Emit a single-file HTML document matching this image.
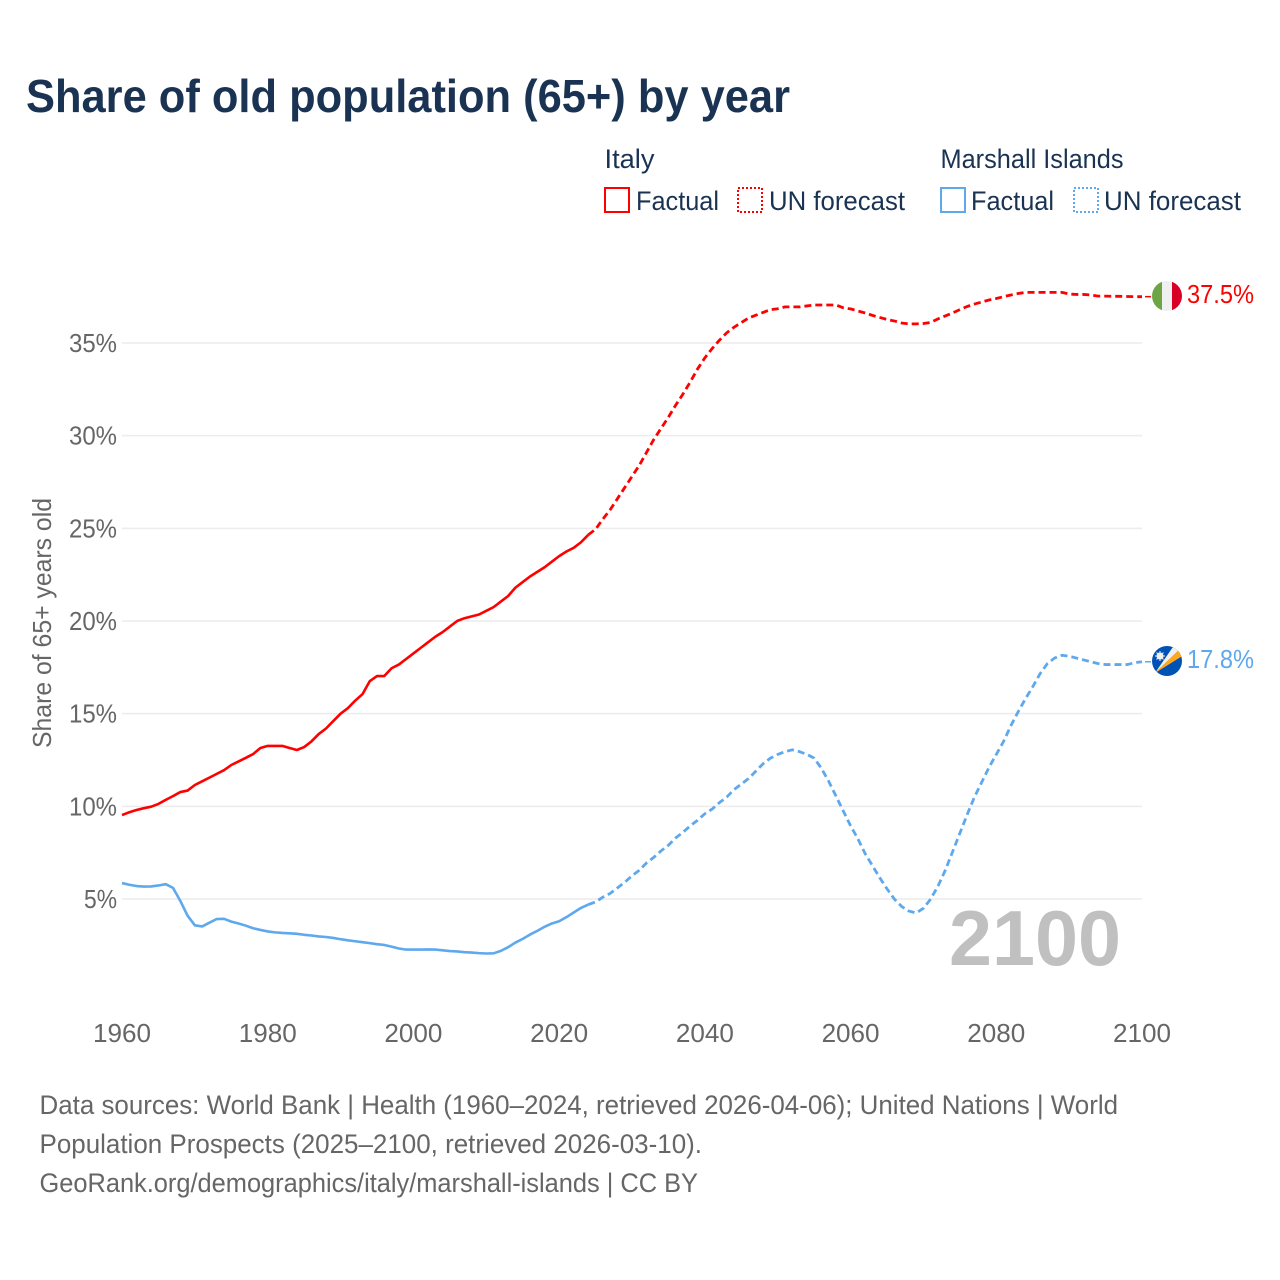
<!DOCTYPE html>
<html lang="en">
<head>
<meta charset="utf-8">
<title>Share of old population (65+) by year</title>
<style>
html,body{margin:0;padding:0;background:#fff;}
#chart-root{display:block;width:1280px;height:1280px;font-family:"Liberation Sans",sans-serif;}
</style>
</head>
<body>
<svg id="chart-root" xmlns="http://www.w3.org/2000/svg" width="1280" height="1280" viewBox="0 0 1280 1280">
  <defs>
    <clipPath id="flag-clip-it"><circle cx="1167" cy="296" r="15"/></clipPath>
    <clipPath id="flag-clip-mh"><circle cx="1167" cy="661" r="15"/></clipPath>
  </defs>
  <rect x="0" y="0" width="1280" height="1280" fill="#ffffff"/>
  <text x="26" y="112" font-size="46" font-weight="700" fill="#1a3353" textLength="764" lengthAdjust="spacingAndGlyphs">Share of old population (65+) by year</text>

  <g font-size="27" fill="#1a3353">
    <text x="604.5" y="168" textLength="50" lengthAdjust="spacingAndGlyphs">Italy</text>
    <text x="940.5" y="168" textLength="183" lengthAdjust="spacingAndGlyphs">Marshall Islands</text>
    <rect x="605" y="188" width="24" height="24" fill="none" stroke="#ff0000" stroke-width="2"/>
    <text x="636" y="210" textLength="83" lengthAdjust="spacingAndGlyphs">Factual</text>
    <rect x="738" y="188" width="24" height="24" fill="none" stroke="#ff0000" stroke-width="2" stroke-dasharray="2 2"/>
    <text x="769" y="210" textLength="136" lengthAdjust="spacingAndGlyphs">UN forecast</text>
    <rect x="941" y="188" width="24" height="24" fill="none" stroke="#5ea8ee" stroke-width="2"/>
    <text x="971" y="210" textLength="83" lengthAdjust="spacingAndGlyphs">Factual</text>
    <rect x="1074" y="188" width="24" height="24" fill="none" stroke="#5ea8ee" stroke-width="2" stroke-dasharray="2 2"/>
    <text x="1104" y="210" textLength="137" lengthAdjust="spacingAndGlyphs">UN forecast</text>
  </g>

  <g id="grid-layer"></g>
  <g id="y-tick-layer"></g>
  <g id="x-tick-layer"></g>
  <text transform="translate(51 748) rotate(-90)" x="0" y="0" font-size="26" fill="#666666" textLength="250" lengthAdjust="spacingAndGlyphs">Share of 65+ years old</text>

  <text x="949" y="965" font-size="78" font-weight="700" fill="#c0c0c0" textLength="172" lengthAdjust="spacingAndGlyphs">2100</text>

  <g id="series-layer"></g>

  <g clip-path="url(#flag-clip-it)">
    <rect x="1152" y="281" width="10" height="30" fill="#6da544"/>
    <rect x="1162" y="281" width="10" height="30" fill="#f0f0f0"/>
    <rect x="1172" y="281" width="10" height="30" fill="#d80027"/>
  </g>
  <g clip-path="url(#flag-clip-mh)">
    <rect x="1152" y="646" width="30" height="30" fill="#0052b4"/>
    <polygon points="1155,673 1175,644 1180,649" fill="#f0f0f0"/>
    <polygon points="1155,673 1180,649 1184,655" fill="#ffa81e"/>
    <circle cx="1160" cy="656" r="3.5" fill="#f0f0f0"/>
    <path d="M1160 651V661M1155 656H1165M1156.500 652.500L1163.500 659.500M1156.500 659.500L1163.500 652.500" stroke="#f0f0f0" stroke-width="1"/>
  </g>
  <text x="1187" y="303" font-size="26" fill="#ff0000" textLength="67" lengthAdjust="spacingAndGlyphs">37.5%</text>
  <text x="1187" y="668" font-size="26" fill="#5ea8ee" textLength="67" lengthAdjust="spacingAndGlyphs">17.8%</text>

  <g font-size="27" fill="#666666">
    <text x="39.500" y="1114" textLength="1078.500" lengthAdjust="spacingAndGlyphs">Data sources: World Bank | Health (1960–2024, retrieved 2026-04-06); United Nations | World</text>
    <text x="39.500" y="1153" textLength="662.500" lengthAdjust="spacingAndGlyphs">Population Prospects (2025–2100, retrieved 2026-03-10).</text>
    <text x="39.500" y="1192" textLength="658.500" lengthAdjust="spacingAndGlyphs">GeoRank.org/demographics/italy/marshall-islands | CC BY</text>
  </g>
</svg>
<script>
var factualStartYear = 1960;
var forecastStartYear = 2024;
var yTickValues = [5, 10, 15, 20, 25, 30, 35];
var yTickLabels = ['5%', '10%', '15%', '20%', '25%', '30%', '35%'];
var xTickYears = [1960, 1980, 2000, 2020, 2040, 2060, 2080, 2100];
var italyFactual = [9.53,9.68,9.8,9.9,9.98,10.13,10.35,10.55,10.77,10.85,11.15,11.35,11.55,11.75,11.95,12.23,12.42,12.62,12.82,13.15,13.26,13.26,13.26,13.15,13.04,13.2,13.5,13.9,14.2,14.6,15.0,15.3,15.7,16.05,16.75,17.03,17.03,17.45,17.65,17.95,18.25,18.55,18.85,19.15,19.4,19.7,20.0,20.15,20.25,20.35,20.55,20.75,21.05,21.35,21.8,22.1,22.4,22.65,22.9,23.2,23.5,23.75,23.95,24.25,24.65];
var italyForecast = [24.65,24.95,25.5,26.0,26.6,27.2,27.8,28.4,29.1,29.8,30.4,31.0,31.65,32.25,32.9,33.6,34.2,34.7,35.15,35.55,35.85,36.1,36.35,36.5,36.65,36.8,36.85,36.95,36.95,36.95,37.0,37.05,37.05,37.05,37.05,36.9,36.84,36.73,36.62,36.49,36.38,36.27,36.19,36.08,36.03,36.03,36.05,36.11,36.3,36.46,36.62,36.8,36.97,37.1,37.21,37.32,37.4,37.5,37.59,37.67,37.73,37.73,37.73,37.73,37.73,37.73,37.64,37.62,37.62,37.59,37.53,37.53,37.52,37.52,37.51,37.5,37.5];
var marshallFactual = [5.86,5.77,5.7,5.67,5.68,5.73,5.8,5.6,4.9,4.1,3.58,3.52,3.72,3.92,3.93,3.78,3.68,3.56,3.42,3.33,3.25,3.2,3.17,3.15,3.12,3.07,3.03,2.98,2.95,2.9,2.83,2.77,2.72,2.67,2.62,2.56,2.52,2.43,2.33,2.27,2.27,2.27,2.28,2.27,2.23,2.19,2.17,2.13,2.11,2.08,2.06,2.07,2.2,2.4,2.65,2.85,3.08,3.28,3.5,3.68,3.8,4.02,4.27,4.52,4.7];
var marshallForecast = [4.7,4.84,5.1,5.3,5.6,5.9,6.25,6.55,6.95,7.25,7.6,7.9,8.3,8.6,8.95,9.25,9.6,9.85,10.2,10.5,10.9,11.2,11.5,11.9,12.3,12.6,12.8,12.95,13.05,12.95,12.8,12.6,12.05,11.35,10.55,9.75,8.95,8.25,7.45,6.8,6.15,5.55,5.0,4.6,4.35,4.25,4.5,5.0,5.7,6.55,7.55,8.55,9.55,10.5,11.3,12.1,12.8,13.5,14.35,15.1,15.8,16.45,17.15,17.7,18.0,18.15,18.1,18.0,17.9,17.8,17.7,17.65,17.65,17.65,17.65,17.75,17.8];

var SVG_NS = 'http://www.w3.org/2000/svg';
var RED = '#ff0000';
var BLUE = '#5ea8ee';

function xScale(year) {
  return 122 + (year - 1960) * (1142 - 122) / 140;
}
function yScale(value) {
  return 899 - (value - 5) * (899 - 343) / 30;
}
function pathFrom(values, startYear) {
  var d = '';
  for (var i = 0; i < values.length; i++) {
    d += (i === 0 ? 'M' : 'L') + xScale(startYear + i).toFixed(2) + ' ' + yScale(values[i]).toFixed(2);
  }
  return d;
}
function make(tag, attrs, parent) {
  var el = document.createElementNS(SVG_NS, tag);
  for (var k in attrs) { el.setAttribute(k, attrs[k]); }
  parent.appendChild(el);
  return el;
}

var gridLayer = document.getElementById('grid-layer');
var yTickLayer = document.getElementById('y-tick-layer');
var xTickLayer = document.getElementById('x-tick-layer');
var seriesLayer = document.getElementById('series-layer');

yTickValues.forEach(function (v, i) {
  var line = make('line', {x1: 122, x2: 1142, y1: yScale(v), y2: yScale(v), stroke: '#ececec', 'stroke-width': 1.5}, gridLayer);
  
  
  var label = make('text', {x: 117, y: yScale(v) + 9, 'text-anchor': 'end', 'font-size': 26, fill: '#666666', textLength: v < 10 ? 33 : 48, lengthAdjust: 'spacingAndGlyphs'}, yTickLayer);
  
  
  label.textContent = yTickLabels[i];
});

xTickYears.forEach(function (yr) {
  var label = make('text', {x: xScale(yr), y: 1042, 'text-anchor': 'middle', 'font-size': 26, fill: '#666666', textLength: 58, lengthAdjust: 'spacingAndGlyphs'}, xTickLayer);
  
  
  label.textContent = String(yr);
});

function drawLine(values, startYear, color, dashed, name) {
  var attrs = {d: pathFrom(values, startYear), fill: 'none', stroke: color, 'stroke-width': dashed ? 2.8 : 2.6, 'stroke-linejoin': 'round'};
  if (dashed) { attrs['stroke-dasharray'] = '7 4'; }
  var p = make('path', attrs, seriesLayer);
  
  
}
function drawConnector(lastValue, color, name) {
  var c = make('line', {x1: xScale(2100) + 3, x2: 1151, y1: yScale(lastValue), y2: yScale(lastValue), stroke: color, 'stroke-width': 1.5}, seriesLayer);
  
  
}

drawLine(italyFactual, factualStartYear, RED, false, 'line-italy-factual');
drawLine(italyForecast, forecastStartYear, RED, true, 'line-italy-forecast');
drawLine(marshallFactual, factualStartYear, BLUE, false, 'line-marshall-factual');
drawLine(marshallForecast, forecastStartYear, BLUE, true, 'line-marshall-forecast');
drawConnector(italyForecast[italyForecast.length - 1], RED, 'connector-italy');
drawConnector(marshallForecast[marshallForecast.length - 1], BLUE, 'connector-marshall');
</script>
</body>
</html>
